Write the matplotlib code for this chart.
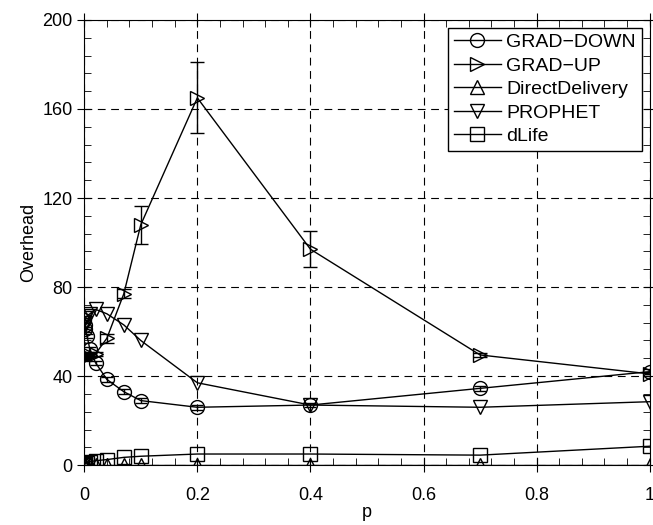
# Overhead vs p for the five routing schemes
import numpy as np
import matplotlib.pyplot as plt
from matplotlib.ticker import MultipleLocator

plt.rcParams['font.family'] = ['Liberation Sans', 'DejaVu Sans']

# x values (probability p)
p = [0, 0.001, 0.002, 0.005, 0.01, 0.02, 0.04, 0.07, 0.1, 0.2, 0.4, 0.7, 1.0]

# series
grad_down = [65, 63, 61, 58, 52, 46, 38.5, 33, 29, 26, 27, 34.5, 42]
grad_down_err = [1, 1, 1, 1, 1, 1, 1, 1, 1, 1, 1, 1, 1]
grad_up = [48, 48.5, 49, 49, 49.5, 50, 57, 77, 108, 165, 97, 49.5, 41]
grad_up_err = [1, 1, 1, 1, 1, 1, 2, 2, 8.5, 16, 8, 1, 1]
direct = [0, 0, 0, 0, 0, 0, 0, 0, 0, 0, 0, 0, 0]
prophet = [62, 64, 66, 67, 68, 70, 68, 63, 56, 37, 27, 26, 28.5]
dlife = [0, 0.5, 0.8, 1, 1.5, 2, 2.5, 3.5, 4, 5, 5, 4.5, 8.5]

fig = plt.figure(figsize=(6.53, 5.25), dpi=100)
ax = fig.add_axes([0.129, 0.114, 0.866, 0.848])

style = dict(color='black', mfc='none', mec='black', ms=10, lw=1, mew=1)

# error bars first, lines with markers on top
ax.errorbar(p, grad_down, yerr=grad_down_err, fmt='none', ecolor='black', capsize=4, elinewidth=1)
ax.errorbar(p, grad_up, yerr=grad_up_err, fmt='none', ecolor='black', capsize=5, elinewidth=1)

ax.plot(p, grad_down, marker='o', label='GRAD\u2212DOWN', **style)
ax.plot(p, grad_up, marker='>', label='GRAD\u2212UP', **style)
ax.plot(p, direct, marker='^', label='DirectDelivery', **style)
ax.plot(p, prophet, marker='v', label='PROPHET', **style)
ax.plot(p, dlife, marker='s', label='dLife', **style)

ax.set_xlim(0, 1)
ax.set_ylim(0, 200)
ax.set_xticks([0, 0.2, 0.4, 0.6, 0.8, 1])
ax.set_xticklabels(['0', '0.2', '0.4', '0.6', '0.8', '1'])
ax.xaxis.set_minor_locator(MultipleLocator(0.04))
ax.yaxis.set_major_locator(MultipleLocator(40))
ax.yaxis.set_minor_locator(MultipleLocator(8))
ax.tick_params(which='major', direction='inout', length=10, top=True, right=True, labelsize=13)
ax.tick_params(which='minor', direction='in', length=5, top=True, right=True)
ax.tick_params(axis='x', which='major', pad=11)
ax.grid(True, which='major', linestyle=(0, (7, 5)), color='black', lw=0.8)

ax.set_xlabel('p', fontsize=13, labelpad=0)
ax.set_ylabel('Overhead', fontsize=13)

leg = ax.legend(loc='upper right', fontsize=14, fancybox=False, framealpha=1,
                edgecolor='black', handlelength=2.4, borderaxespad=0.4,
                handletextpad=0.3, labelspacing=0.3, borderpad=0.3)
leg.get_frame().set_linewidth(1)

plt.savefig('out.png', dpi=100)
